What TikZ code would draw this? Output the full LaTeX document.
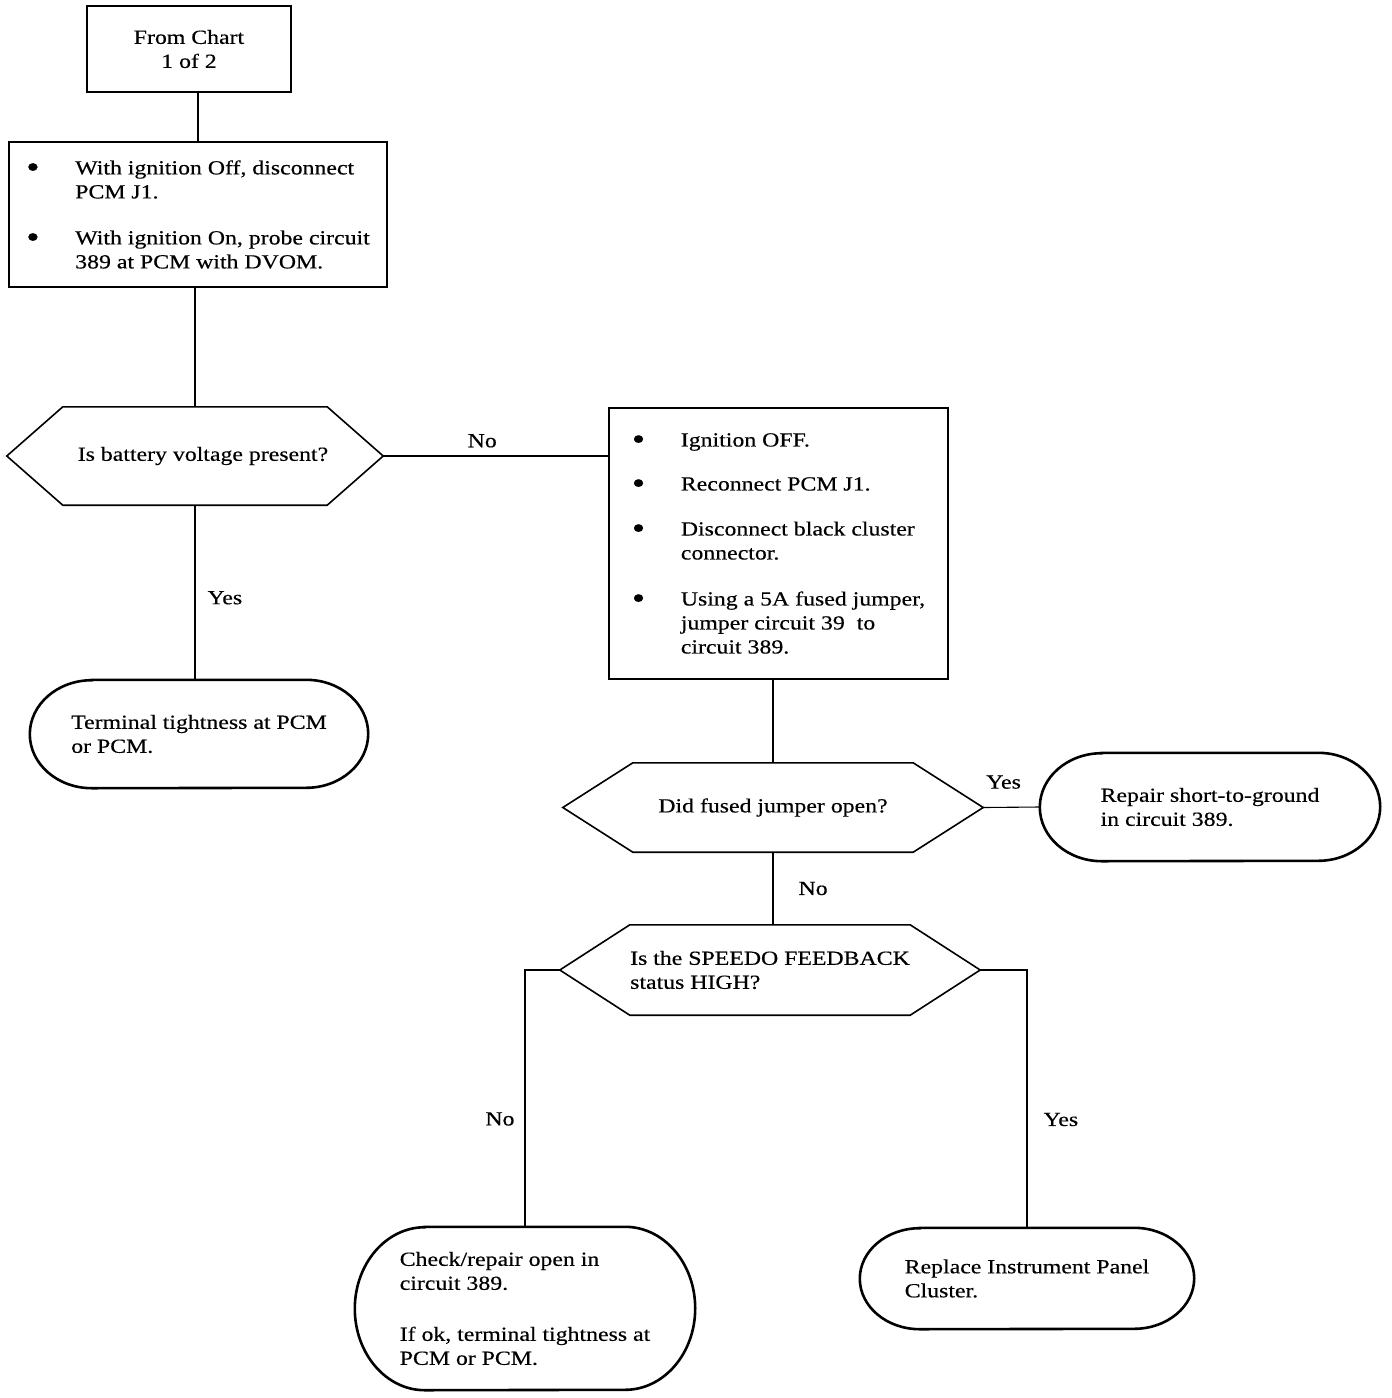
\documentclass[tikz,border=0pt]{standalone}
\usepackage{fontspec}
\setmainfont{Liberation Serif}[FakeStretch=1.19, FakeBold=0.4]
\usetikzlibrary{positioning, calc}

\newcommand{\bulmark}{\makebox[49pt][l]{\raisebox{-0.35ex}{\scalebox{1.6}{\textbullet}}}}
\newcommand{\bulpad}{\hspace*{49pt}}

% hexagon round a decision node: node name, corner inset
\newcommand{\hexframe}[2]{%
  \draw[hexline] (#1.west) -- ([xshift=#2]#1.north west) -- ([xshift=-#2]#1.north east)
    -- (#1.east) -- ([xshift=-#2]#1.south east) -- ([xshift=#2]#1.south west) -- cycle;}
% oval round an end node: node name, x radius, y radius
\newcommand{\ovalframe}[3]{%
  \draw[ovalline] ([xshift=#2]#1.north west) -- ([xshift=-#2]#1.north east)
    arc[start angle=90, end angle=-90, x radius=#2, y radius=#3]
    -- ([xshift=#2]#1.south west)
    arc[start angle=270, end angle=90, x radius=#2, y radius=#3] -- cycle;}

\begin{document}
\begin{tikzpicture}[
    x=1pt, y=1pt,
    font=\fontsize{20}{24}\selectfont,
    startbox/.style={draw, line width=1.6pt, align=center, inner sep=0pt},
    stepbox/.style={draw, line width=1.6pt, align=left, inner sep=0pt},
    decision/.style={align=left, inner sep=0pt},
    terminal/.style={align=left, inner sep=0pt},
    hexline/.style={line width=1.6pt, line join=miter},
    ovalline/.style={line width=2.6pt},
    link/.style={line width=1.1pt},
    lbl/.style={inner sep=0pt},
  ]
    \useasboundingbox (0,0) rectangle (1392,-1398);

    \node[startbox, minimum width=204pt, minimum height=86pt] (start) at (189,-49)
      {From Chart\\1 of 2};
    \node[stepbox, minimum width=378pt, minimum height=145pt] (stepA) at (198,-214.5) {%
      \bulmark With ignition Off, disconnect\\
      \bulpad PCM J1.\\[22pt]
      \bulmark With ignition On, probe circuit\\
      \bulpad 389 at PCM with DVOM.};
    \node[decision, minimum width=376pt, minimum height=98pt] (hexA) at (195,-456)
      {\hspace*{16pt}Is battery voltage present?};
    \node[stepbox, minimum width=339pt, minimum height=271pt] (stepB) at (778.5,-543.5) {%
      \bulmark Ignition OFF.\\[20pt]
      \bulmark Reconnect PCM J1.\\[21pt]
      \bulmark Disconnect black cluster\\
      \bulpad connector.\\[22pt]
      \bulmark Using a 5A fused jumper,\\
      \bulpad jumper circuit 39\ \ to\\
      \bulpad circuit 389.};
    \node[terminal, minimum width=338pt, minimum height=108pt] (ovalA) at (199,-734)
      {Terminal tightness at PCM\\or PCM.};
    \node[decision, minimum width=420pt, minimum height=89pt] (hexB) at (773,-807.5)
      {Did fused jumper open?};
    \node[terminal, minimum width=340pt, minimum height=108pt] (ovalB) at (1210,-807)
      {Repair short-to-ground\\in circuit 389.};
    \node[decision, minimum width=420pt, minimum height=90pt] (hexC) at (770,-970)
      {Is the SPEEDO FEEDBACK\\status HIGH?};
    \node[terminal, minimum width=340pt, minimum height=163pt] (ovalC) at (525,-1308.5)
      {Check/repair open in\\circuit 389.\\[27pt]If ok, terminal tightness at\\PCM or PCM.};
    \node[terminal, minimum width=334pt, minimum height=101pt] (ovalD) at (1027,-1278.5)
      {Replace Instrument Panel\\Cluster.};

    \hexframe{hexA}{56}
    \hexframe{hexB}{70}
    \hexframe{hexC}{70}
    \ovalframe{ovalA}{62}{54}
    \ovalframe{ovalB}{62}{54}
    \ovalframe{ovalC}{70}{81.5}
    \ovalframe{ovalD}{60}{50.5}

    \draw[link] (stepA.north |- start.south) -- (stepA.north);
    \draw[link] (hexA.north |- stepA.south) -- (hexA.north);
    \draw[link] (hexA.east) -- node[lbl, above=8pt, pos=0.44] {No} (hexA.east -| stepB.west);
    \draw[link] (hexA.south) -- node[lbl, right=12pt, pos=0.53] {Yes} (hexA.south |- ovalA.north);
    \draw[link] (hexB.north |- stepB.south) -- (hexB.north);
    \draw[link] (hexB.east) -- node[lbl, above=18pt, pos=0.36] {Yes} (ovalB.west);
    \draw[link] (hexB.south) -- node[lbl, right=25pt] {No} (hexB.south |- hexC.north);
    \draw[link] (hexC.west) -| node[lbl, left=10pt, pos=0.79] {No} (ovalC.north);
    \draw[link] (hexC.east) -| node[lbl, right=16pt, pos=0.79] {Yes} (ovalD.north);
\end{tikzpicture}
\end{document}
